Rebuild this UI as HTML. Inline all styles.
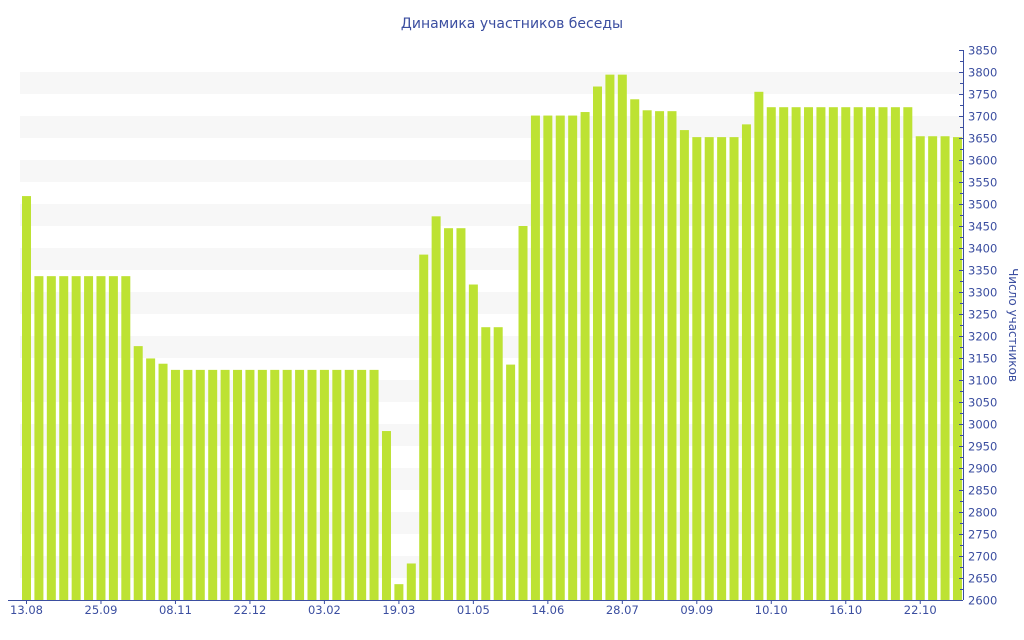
<!DOCTYPE html>
<html><head><meta charset="utf-8"><style>
body{margin:0;background:#fff;}
svg{display:block;font-family:"DejaVu Sans","Liberation Sans",sans-serif;}
</style></head><body>
<svg id="chart" width="1024" height="640">
<text x="512" y="28" text-anchor="middle" font-size="14" fill="#3b4ea0">Динамика участников беседы</text>
<g id="grid"></g><g id="bars"></g><g id="axes"></g>
<text transform="translate(1009,325) rotate(90)" text-anchor="middle" font-size="12" fill="#3b4ea0">Число участников</text>
</svg>
<script>
const values=[3518,3336,3336,3336,3336,3336,3336,3336,3336,3177,3149,3137,
3123,3123,3123,3123,3123,3123,3123,3123,3123,3123,3123,3123,3123,3123,3123,3123,3123,
2984,2636,2683,3385,3472,3445,3445,3317,3220,3220,3135,3450,3701,3701,3701,3701,3709,3767,3794,3794,
3738,3713,3711,3711,3668,3652,3652,3652,3652,3681,3755,
3720,3720,3720,3720,3720,3720,3720,3720,3720,3720,3720,3720,3654,3654,3654,3652];
const xLabels=["13.08","25.09","08.11","22.12","03.02","19.03","01.05","14.06","28.07","09.09","10.10","16.10","22.10"];
const xLabelIdx=[0,6,12,18,24,30,36,42,48,54,60,66,72];
const yTicks=[2600,2650,2700,2750,2800,2850,2900,2950,3000,3050,3100,3150,3200,3250,3300,3350,3400,3450,3500,3550,3600,3650,3700,3750,3800,3850];
const NS="http://www.w3.org/2000/svg";
const yMin=2600,yMax=3850,yTop=50,yBot=600,xL=20,axisX=963;
const pitch=12.413,bx0=22,bw=9;
function y(v){return yBot-(v-yMin)/(yMax-yMin)*(yBot-yTop);}
function x(i){return bx0+i*pitch;}
function mk(t,a,p){const e=document.createElementNS(NS,t);for(const k in a)e.setAttribute(k,a[k]);p.appendChild(e);return e;}
const grid=document.getElementById('grid'),bars=document.getElementById('bars'),axes=document.getElementById('axes');
for(let v=3750;v>=2650;v-=100){
 const r=mk('rect',{x:xL,y:y(v+50),width:axisX-xL,height:y(v)-y(v+50),fill:'#f7f7f7'},grid);
 
 
}
values.forEach((v,i)=>{
 const r=mk('rect',{x:x(i),y:y(v),width:bw,height:yBot-y(v),fill:'#bde233'},bars);
 
 
});
const c='#3b4ea0';
let l=mk('line',{x1:8,x2:axisX,y1:yBot+0.5,y2:yBot+0.5,stroke:c,'stroke-width':1},axes);


l=mk('line',{x1:axisX+0.5,x2:axisX+0.5,y1:yTop,y2:yBot,stroke:c,'stroke-width':1},axes);


for(let v=yMin;v<=yMax;v+=25){
 const mj=v%50===0;
 mk('line',{x1:axisX-(mj?4:3),x2:axisX,y1:y(v)+0.5,y2:y(v)+0.5,stroke:c},axes);
}
yTicks.forEach(v=>{
 const t=mk('text',{x:968,y:y(v)+4.5,'font-size':11.5,fill:c},axes);
 t.textContent=v;
 
 
});
xLabels.forEach((s,k)=>{
 const cx=x(xLabelIdx[k])+bw/2;
 mk('line',{x1:cx,x2:cx,y1:yBot,y2:yBot+4,stroke:c},axes);
 const t=mk('text',{x:cx,y:614,'text-anchor':'middle','font-size':11.5,fill:c},axes);
 t.textContent=s;
 
 
});
</script>
</body></html>
